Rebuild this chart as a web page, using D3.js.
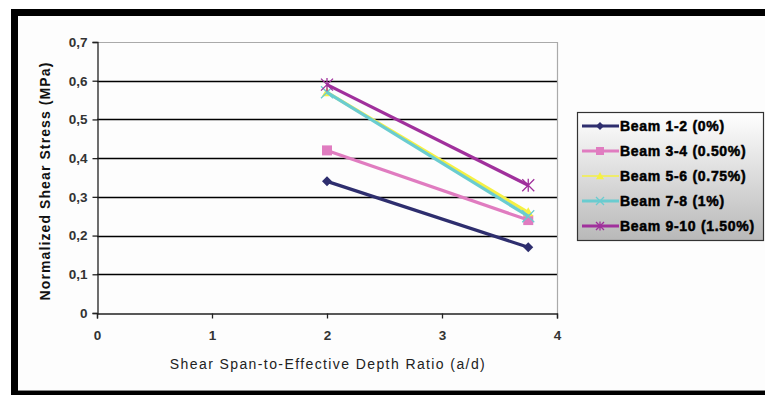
<!DOCTYPE html>
<html>
<head>
<meta charset="utf-8">
<script src="https://cdn.jsdelivr.net/npm/d3@7"></script>
<style>
  html, body { margin: 0; padding: 0; background: #fff; }
  svg { display: block; }
</style>
</head>
<body>
<svg id="chart" width="765" height="395"></svg>
<script>
// Shear span-to-depth ratio for each test pair
const ratios = [2, 3.75];

const seriesNames = [
  "Beam 1-2 (0%)",
  "Beam 3-4 (0.50%)",
  "Beam 5-6 (0.75%)",
  "Beam 7-8 (1%)",
  "Beam 9-10 (1.50%)"
];

// Normalized shear stress (MPa) at each ratio
const beam12 = [0.34, 0.17];
const beam34 = [0.42, 0.24];
const beam56 = [0.57, 0.26];
const beam78 = [0.57, 0.25];
const beam910 = [0.59, 0.33];

const xTicks = [0, 1, 2, 3, 4];
const yTicks = [0, 0.1, 0.2, 0.3, 0.4, 0.5, 0.6, 0.7];

const seriesValues = [beam12, beam34, beam56, beam78, beam910];
const colors = ["#2e2e6e", "#e07cc0", "#f5f044", "#6accd0", "#a0309c"];
const markers = ["diamond", "square", "triangle", "x", "star"];

const svg = d3.select("#chart");

// outer frame: heavy black edges on left, top and bottom
svg.append("rect").attr("x", 0).attr("y", 0).attr("width", 765).attr("height", 395).attr("fill", "#fff");
svg.append("rect").attr("x", 11).attr("y", 9).attr("width", 754).attr("height", 386).attr("fill", "#000");
svg.append("rect").attr("x", 18).attr("y", 16).attr("width", 747).attr("height", 374).attr("fill", "#fdfdfd");
svg.append("line").attr("x1", 18).attr("x2", 765).attr("y1", 390.5).attr("y2", 390.5).attr("stroke", "#888").attr("stroke-width", 1);

const plot = { left: 97, top: 42, right: 557, bottom: 313 };

const x = d3.scaleLinear().domain([0, 4]).range([plot.left, plot.right]);
const y = d3.scaleLinear().domain([0, 0.7]).range([plot.bottom, plot.top]);

// horizontal gridlines
svg.append("g").selectAll("line")
  .data(yTicks.filter(t => t > 0 && t < 0.7))
  .join("line")
  .attr("x1", plot.left).attr("x2", plot.right)
  .attr("y1", d => Math.round(y(d)) + 0.5).attr("y2", d => Math.round(y(d)) + 0.5)
  .attr("stroke", "#000").attr("stroke-width", 1.3);

// plot border top and right (grey)
svg.append("line").attr("x1", plot.left).attr("x2", plot.right)
  .attr("y1", plot.top + 0.5).attr("y2", plot.top + 0.5).attr("stroke", "#aaa").attr("stroke-width", 1.2);
svg.append("line").attr("x1", plot.right + 0.5).attr("x2", plot.right + 0.5)
  .attr("y1", plot.top).attr("y2", plot.bottom).attr("stroke", "#aaa").attr("stroke-width", 1.2);

const fmt = d => d === 0 ? "0" : d3.format(".1f")(d).replace(".", ",");

const yAxis = svg.append("g")
  .attr("transform", `translate(${plot.left + 0.5},0)`)
  .call(d3.axisLeft(y).tickValues(yTicks).tickFormat(fmt).tickSize(5).tickPadding(5));
const xAxis = svg.append("g")
  .attr("transform", `translate(0,${plot.bottom + 0.5})`)
  .call(d3.axisBottom(x).tickValues(xTicks).tickFormat(d3.format("d")).tickSize(5).tickPadding(12));

[yAxis, xAxis].forEach(a => {
  a.select(".domain").attr("stroke", "#222").attr("stroke-width", 1.3);
  a.selectAll(".tick line").attr("stroke", "#222").attr("stroke-width", 1.3);
  a.selectAll(".tick text")
    .attr("font-family", "Liberation Sans, Arial, sans-serif")
    .attr("font-size", 13.5).attr("font-weight", "bold").attr("fill", "#333");
});

// axis titles
svg.append("text")
  .attr("x", 328).attr("y", 369)
  .attr("text-anchor", "middle")
  .attr("font-family", "Liberation Sans, Arial, sans-serif")
  .attr("font-size", 14).attr("letter-spacing", 1.4).attr("fill", "#222")
  .text("Shear Span-to-Effective Depth Ratio (a/d)");

svg.append("text")
  .attr("transform", `translate(50,181) rotate(-90)`)
  .attr("text-anchor", "middle")
  .attr("font-family", "Liberation Sans, Arial, sans-serif")
  .attr("font-size", 14).attr("font-weight", "bold").attr("letter-spacing", 1.1).attr("fill", "#111")
  .text("Normalized Shear Stress (MPa)");

function drawMarker(g, type, color, size) {
  const s = size;
  if (type === "diamond") {
    g.append("path").attr("d", `M0,${-s}L${s},0L0,${s}L${-s},0Z`).attr("fill", color);
  } else if (type === "square") {
    g.append("rect").attr("x", -s).attr("y", -s).attr("width", 2 * s).attr("height", 2 * s).attr("fill", color);
  } else if (type === "triangle") {
    g.append("path").attr("d", `M0,${-s}L${s},${s * 0.8}L${-s},${s * 0.8}Z`).attr("fill", color);
  } else if (type === "x") {
    g.append("path").attr("d", `M${-s},${-s}L${s},${s}M${-s},${s}L${s},${-s}`)
      .attr("stroke", color).attr("stroke-width", 1.3).attr("fill", "none");
  } else if (type === "star") {
    g.append("path").attr("d", `M${-s},${-s}L${s},${s}M${-s},${s}L${s},${-s}M0,${-s * 1.1}L0,${s * 1.1}`)
      .attr("stroke", color).attr("stroke-width", 1.3).attr("fill", "none");
  }
}

const markerSize = [5, 5, 5, 6, 6];
const line = d3.line().x(d => x(d[0])).y(d => y(d[1]));

seriesValues.forEach((vals, i) => {
  const pts = ratios.map((r, j) => [r, vals[j]]);
  const g = svg.append("g");
  g.append("path").attr("d", line(pts))
    .attr("fill", "none").attr("stroke", colors[i]).attr("stroke-width", 3.2);
  pts.forEach(p => {
    const m = g.append("g").attr("transform", `translate(${x(p[0])},${y(p[1])})`);
    drawMarker(m, markers[i], colors[i], markerSize[i]);
  });
});

// legend
const defs = svg.append("defs");
const grad = defs.append("linearGradient").attr("id", "legendFill")
  .attr("x1", 0).attr("y1", 0).attr("x2", 0).attr("y2", 1);
grad.append("stop").attr("offset", "0%").attr("stop-color", "#ffffff");
grad.append("stop").attr("offset", "100%").attr("stop-color", "#b8b8b8");

const lg = svg.append("g").attr("transform", "translate(577,112)");
lg.append("rect").attr("x", 0.5).attr("y", 0.5).attr("width", 186).attr("height", 128)
  .attr("fill", "url(#legendFill)").attr("stroke", "#333").attr("stroke-width", 1.2);

seriesNames.forEach((name, i) => {
  const row = lg.append("g").attr("transform", `translate(0,${14 + i * 25})`);
  row.append("line").attr("x1", 5).attr("x2", 42).attr("y1", 0).attr("y2", 0)
    .attr("stroke", colors[i]).attr("stroke-width", i === 2 ? 1.5 : 3);
  const m = row.append("g").attr("transform", "translate(23,0)");
  drawMarker(m, markers[i], colors[i], 4);
  row.append("text").attr("x", 43).attr("y", 5)
    .attr("font-family", "Liberation Sans, Arial, sans-serif")
    .attr("font-size", 14).attr("font-weight", "bold").attr("letter-spacing", 0.7)
    .attr("stroke", "#000").attr("stroke-width", 0.5).attr("fill", "#000")
    .text(name);
});
</script>
</body>
</html>
